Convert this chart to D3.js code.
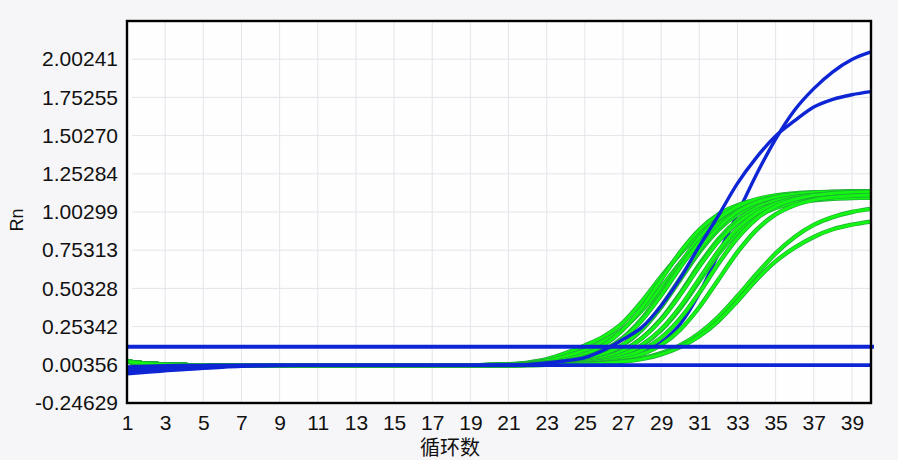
<!DOCTYPE html>
<html>
<head>
<meta charset="utf-8">
<script src="https://cdn.jsdelivr.net/npm/d3@7/dist/d3.min.js"></script>
<style>
  body { margin: 0; background: #f6f6f8; }
  svg { display: block; font-family: "Liberation Sans", Arial, sans-serif; }
</style>
</head>
<body>
<div id="chart"></div>
<script>
// cycle numbers on the x axis
var cycles = [1, 2, 3, 4, 5, 6, 7, 8, 9, 10, 11, 12, 13, 14, 15, 16, 17, 18, 19, 20,
  21, 22, 23, 24, 25, 26, 27, 28, 29, 30, 31, 32, 33, 34, 35, 36, 37, 38, 39, 40];
var xTicks = [1, 3, 5, 7, 9, 11, 13, 15, 17, 19, 21, 23, 25, 27, 29, 31, 33, 35, 37, 39];
var yTicks = [-0.24629, 0.00356, 0.25342, 0.50328, 0.75313, 1.00299, 1.25284, 1.50270, 1.75255, 2.00241];
var yTop = 2.25227;
var threshold = 0.122;

// cycles 1-19 of the green wells, then cycles 20-40 for each well
var greenStart = [0.025, 0.012, 0.005, 0.002, 0, 0, 0, 0, 0, 0, 0, 0, 0, 0, 0, 0, 0, 0, 0];
var greenLate = [
  [0.004, 0.008, 0.018, 0.04, 0.08, 0.13, 0.19, 0.28, 0.42, 0.58, 0.73, 0.86, 0.95, 1.02, 1.06, 1.08, 1.095, 1.105, 1.11, 1.115, 1.12],
  [0.003, 0.006, 0.014, 0.03, 0.06, 0.10, 0.16, 0.24, 0.36, 0.51, 0.67, 0.81, 0.92, 1.00, 1.05, 1.08, 1.10, 1.11, 1.115, 1.12, 1.125],
  [0.002, 0.005, 0.010, 0.020, 0.038, 0.073, 0.133, 0.234, 0.380, 0.560, 0.740, 0.886, 0.987, 1.047, 1.082, 1.100, 1.110, 1.114, 1.117, 1.118, 1.119],
  [0.002, 0.004, 0.008, 0.015, 0.029, 0.054, 0.100, 0.181, 0.307, 0.475, 0.665, 0.833, 0.959, 1.040, 1.086, 1.112, 1.125, 1.132, 1.135, 1.138, 1.139],
  [0.002, 0.004, 0.008, 0.014, 0.028, 0.052, 0.097, 0.175, 0.296, 0.458, 0.641, 0.804, 0.925, 1.003, 1.048, 1.073, 1.086, 1.092, 1.095, 1.098, 1.099],
  [0.001, 0.003, 0.005, 0.010, 0.020, 0.038, 0.073, 0.133, 0.234, 0.380, 0.560, 0.740, 0.886, 0.987, 1.047, 1.082, 1.100, 1.110, 1.114, 1.117, 1.118],
  [0.001, 0.003, 0.005, 0.011, 0.021, 0.039, 0.074, 0.136, 0.238, 0.386, 0.570, 0.754, 0.902, 1.004, 1.066, 1.101, 1.119, 1.130, 1.134, 1.137, 1.138],
  [0.001, 0.002, 0.004, 0.008, 0.015, 0.028, 0.053, 0.099, 0.180, 0.304, 0.471, 0.659, 0.826, 0.950, 1.031, 1.077, 1.102, 1.115, 1.122, 1.125, 1.127],
  [0.001, 0.002, 0.004, 0.008, 0.015, 0.027, 0.052, 0.097, 0.177, 0.299, 0.463, 0.647, 0.811, 0.933, 1.012, 1.058, 1.082, 1.095, 1.102, 1.105, 1.107],
  [0.001, 0.002, 0.003, 0.005, 0.010, 0.020, 0.037, 0.072, 0.131, 0.230, 0.373, 0.550, 0.727, 0.870, 0.969, 1.029, 1.063, 1.080, 1.090, 1.095, 1.097],
  [0.001, 0.002, 0.003, 0.005, 0.010, 0.020, 0.038, 0.073, 0.134, 0.236, 0.383, 0.565, 0.747, 0.894, 0.995, 1.057, 1.092, 1.109, 1.120, 1.125, 1.127],
  [0.001, 0.001, 0.002, 0.004, 0.008, 0.015, 0.029, 0.054, 0.100, 0.181, 0.307, 0.475, 0.665, 0.833, 0.959, 1.040, 1.086, 1.112, 1.125, 1.132, 1.135],
  [0.000, 0.001, 0.002, 0.003, 0.005, 0.010, 0.020, 0.038, 0.073, 0.133, 0.234, 0.380, 0.560, 0.740, 0.886, 0.987, 1.047, 1.082, 1.100, 1.110, 1.114],
  [0.001, 0.002, 0.003, 0.004, 0.005, 0.009, 0.016, 0.027, 0.047, 0.080, 0.131, 0.210, 0.318, 0.453, 0.597, 0.732, 0.840, 0.919, 0.970, 1.003, 1.023],
  [0.001, 0.001, 0.002, 0.003, 0.004, 0.008, 0.014, 0.024, 0.042, 0.072, 0.12, 0.19, 0.29, 0.42, 0.56, 0.68, 0.77, 0.84, 0.89, 0.92, 0.94]
];

// blue wells
var blueEarly = [-0.03, -0.02, -0.012, -0.008, -0.005, -0.003, 0, 0, 0, 0, 0, 0, 0, 0, 0, 0, 0, 0, 0, 0.001,
  0.002, 0.005, 0.015, 0.03, 0.05, 0.10, 0.17, 0.25, 0.39, 0.57, 0.78, 0.98, 1.19, 1.36, 1.50, 1.60, 1.69, 1.74, 1.77, 1.79];
var blueLate = [-0.045, -0.03, -0.02, -0.012, -0.007, -0.004, -0.002, 0, 0, 0, 0, 0, 0, 0, 0, 0, 0, 0, 0, 0,
  0, 0.002, 0.003, 0.005, 0.01, 0.02, 0.04, 0.08, 0.15, 0.27, 0.47, 0.73, 0.99, 1.25, 1.48, 1.67, 1.81, 1.92, 2.00, 2.05];
var blueFlat1 = [-0.055, -0.045, -0.035, -0.028, -0.02, -0.012, -0.006, -0.003, -0.001, 0, 0, 0, 0, 0, 0, 0, 0, 0, 0, 0,
  0, 0, 0, 0, 0, 0, 0, 0, 0, 0, 0, 0, 0, 0, 0, 0, 0, 0, 0, 0];
var blueFlat2 = [-0.035, -0.025, -0.018, -0.012, -0.008, -0.005, -0.003, -0.001, 0, 0, 0, 0, 0, 0, 0, 0, 0, 0, 0, 0,
  0, 0, 0, 0, 0, 0, 0, 0, 0, 0, 0, 0, 0, 0, 0, 0, 0, 0, 0, 0];
var blueFlat3 = [-0.01, -0.006, -0.003, -0.001, 0, 0.001, 0.001, 0.001, 0.001, 0.001, 0.001, 0.001, 0.001, 0.001, 0.001, 0.001, 0.001, 0.001, 0.001, 0.001,
  0.001, 0.001, 0.001, 0.001, 0.001, 0.001, 0.001, 0.001, 0.001, 0.001, 0.001, 0.001, 0.001, 0.001, 0.001, 0.001, 0.001, 0.001, 0.001, 0.001];

var margin = { top: 21, right: 27, bottom: 57, left: 127 },
  width = 898 - margin.left - margin.right,
  height = 460 - margin.top - margin.bottom;

var blue = "#0d25d4";
var fmt = d3.formatLocale({ decimal: ".", thousands: ",", grouping: [3], currency: ["", ""], minus: "-" }).format(".5f");

var svg = d3.select("#chart").append("svg")
  .attr("width", 898)
  .attr("height", 460);

var g = svg.append("g")
  .attr("transform", "translate(" + margin.left + "," + margin.top + ")");

var x = d3.scaleLinear().domain([1, 40]).range([0, width]);
var y = d3.scaleLinear().domain([yTicks[0], yTop]).range([height, 0]);

g.append("rect")
  .attr("width", width)
  .attr("height", height)
  .attr("fill", "#fefefe");

// grid
g.selectAll(".hgrid")
  .data(yTicks.slice(1))
  .enter().append("line")
  .attr("x1", 5).attr("x2", width)
  .attr("y1", function (d) { return y(d); })
  .attr("y2", function (d) { return y(d); })
  .attr("stroke", "#e5e4ea").attr("stroke-width", 1);

g.selectAll(".vgrid")
  .data(xTicks.slice(1))
  .enter().append("line")
  .attr("x1", function (d) { return x(d); })
  .attr("x2", function (d) { return x(d); })
  .attr("y1", 0).attr("y2", height)
  .attr("stroke", "#e5e4ea").attr("stroke-width", 1);

svg.append("clipPath").attr("id", "plotclip")
  .append("rect")
  .attr("x", 0).attr("y", 0)
  .attr("width", width + 3).attr("height", height);

var line = d3.line()
  .x(function (d, i) { return x(cycles[i]); })
  .y(function (d) { return y(d); })
  .curve(d3.curveMonotoneX);

var plot = g.append("g").attr("clip-path", "url(#plotclip)");

// the late blue well sits under the greens
plot.append("path")
  .attr("d", line(blueLate))
  .attr("fill", "none").attr("stroke", blue).attr("stroke-width", 3.4);

greenLate.forEach(function (late) {
  var values = greenStart.concat(late);
  plot.append("path")
    .attr("d", line(values))
    .attr("fill", "none").attr("stroke", "#20a838").attr("stroke-width", 4.4);
  plot.append("path")
    .attr("d", line(values))
    .attr("fill", "none").attr("stroke", "#14f514").attr("stroke-width", 3);
});

[blueEarly, blueFlat1, blueFlat2, blueFlat3].forEach(function (values) {
  plot.append("path")
    .attr("d", line(values))
    .attr("fill", "none").attr("stroke", blue).attr("stroke-width", 3.4);
});

plot.append("line")
  .attr("x1", 0).attr("x2", width + 3)
  .attr("y1", y(threshold)).attr("y2", y(threshold))
  .attr("stroke", blue).attr("stroke-width", 4);

// frame
g.append("rect")
  .attr("width", width)
  .attr("height", height)
  .attr("fill", "none")
  .attr("stroke", "#000").attr("stroke-width", 2.4);

// axes
var yAxis = g.append("g")
  .call(d3.axisLeft(y).tickValues(yTicks).tickFormat(fmt).tickSize(0).tickPadding(9));
yAxis.select(".domain").remove();
yAxis.selectAll("text").attr("font-size", 21).attr("fill", "#111")
  .attr("font-family", "'Liberation Sans', Arial, sans-serif");

var xAxis = g.append("g")
  .attr("transform", "translate(0," + height + ")")
  .call(d3.axisBottom(x).tickValues(xTicks).tickSize(0).tickPadding(12));
xAxis.select(".domain").remove();
xAxis.selectAll("text").attr("font-size", 21).attr("fill", "#111")
  .attr("font-family", "'Liberation Sans', Arial, sans-serif");

svg.append("text")
  .attr("transform", "translate(23,220)rotate(-90)")
  .attr("text-anchor", "middle")
  .attr("font-size", 18)
  .attr("fill", "#111")
  .text("Rn");

svg.append("text")
  .attr("x", 450).attr("y", 455)
  .attr("text-anchor", "middle")
  .attr("font-size", 20)
  .attr("font-family", "'Noto Sans CJK SC', sans-serif")
  .attr("fill", "#111")
  .text("循环数");
</script>
</body>
</html>
